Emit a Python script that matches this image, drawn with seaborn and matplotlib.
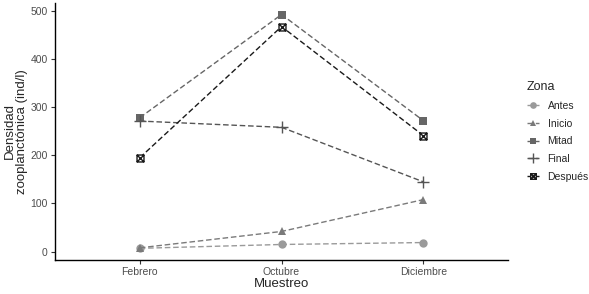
import numpy as np
import pandas as pd
import seaborn as sns
import matplotlib.pyplot as plt
from matplotlib.path import Path

# ---------- data ----------
meses = ['Febrero', 'Octubre', 'Diciembre']
zonas = ['Antes', 'Inicio', 'Mitad', 'Final', 'Después']

antes = [7, 15, 19]
inicio = [8, 42, 108]
mitad = [278, 492, 272]
final = [271, 258, 145]
despues = [195, 467, 241]

df = pd.DataFrame({
    'Muestreo': meses * 5,
    'Zona': np.repeat(zonas, 3),
    'Densidad': antes + inicio + mitad + final + despues,
})

# square with an X inside (ggplot shape 7)
sq_x = Path(
    [(-1, -1), (1, -1), (1, 1), (-1, 1), (-1, -1),
     (-1, -1), (1, 1), (-1, 1), (1, -1)],
    [Path.MOVETO, Path.LINETO, Path.LINETO, Path.LINETO, Path.CLOSEPOLY,
     Path.MOVETO, Path.LINETO, Path.MOVETO, Path.LINETO]
)

colores = {'Antes': '#9a9a9a', 'Inicio': '#7a7a7a', 'Mitad': '#666666',
           'Final': '#555555', 'Después': '#1a1a1a'}
marcas = {'Antes': 'o', 'Inicio': '^', 'Mitad': 's', 'Final': '+', 'Después': sq_x}

sns.set_style('white')
plt.rcParams['font.family'] = ['Liberation Sans', 'DejaVu Sans']

fig = plt.figure(figsize=(5.89, 2.94), dpi=100)
ax = fig.add_axes([0.093, 0.116, 0.77, 0.874])

for z in zonas:
    d = df[df['Zona'] == z]
    x = [meses.index(m) for m in d['Muestreo']]
    if z == 'Después':
        ax.plot(x, d['Densidad'], linestyle=(0, (4, 2)), color=colores[z], lw=1,
                marker=sq_x, markersize=5, markerfacecolor='white',
                markeredgecolor=colores[z], markeredgewidth=1, label=z)
    else:
        ax.plot(x, d['Densidad'], linestyle=(0, (4, 2)), color=colores[z], lw=1,
                marker=marcas[z], markersize=6 if z != 'Final' else 9,
                markeredgewidth=1 if z == 'Final' else 0, label=z)

ax.set_xlim(-0.6, 2.6)
ax.set_ylim(-17, 516)
ax.set_xticks(range(len(meses)))
ax.set_xticklabels(meses)
ax.set_yticks([0, 100, 200, 300, 400, 500])
ax.tick_params(axis='both', labelsize=7.5, labelcolor='#4d4d4d', length=3,
               color='#333333', width=0.8, left=True, bottom=True, pad=2)
ax.set_xlabel('Muestreo', fontsize=9.5, labelpad=1)
ax.set_ylabel('Densidad\nzooplanctónica (ind/l)', fontsize=9.5,
              linespacing=1.05)
ax.yaxis.set_label_coords(-0.058, 0.5)
sns.despine(ax=ax)
for s in ['left', 'bottom']:
    ax.spines[s].set_color('black')
    ax.spines[s].set_linewidth(1)

leg = ax.legend(title='Zona', loc='center left', bbox_to_anchor=(1.02, 0.5),
                frameon=False, fontsize=7.5, title_fontsize=9, handlelength=1.2,
                handletextpad=0.8, labelspacing=0.75, alignment='left',
                markerscale=0.8)

fig.savefig('out.png', dpi=100)
